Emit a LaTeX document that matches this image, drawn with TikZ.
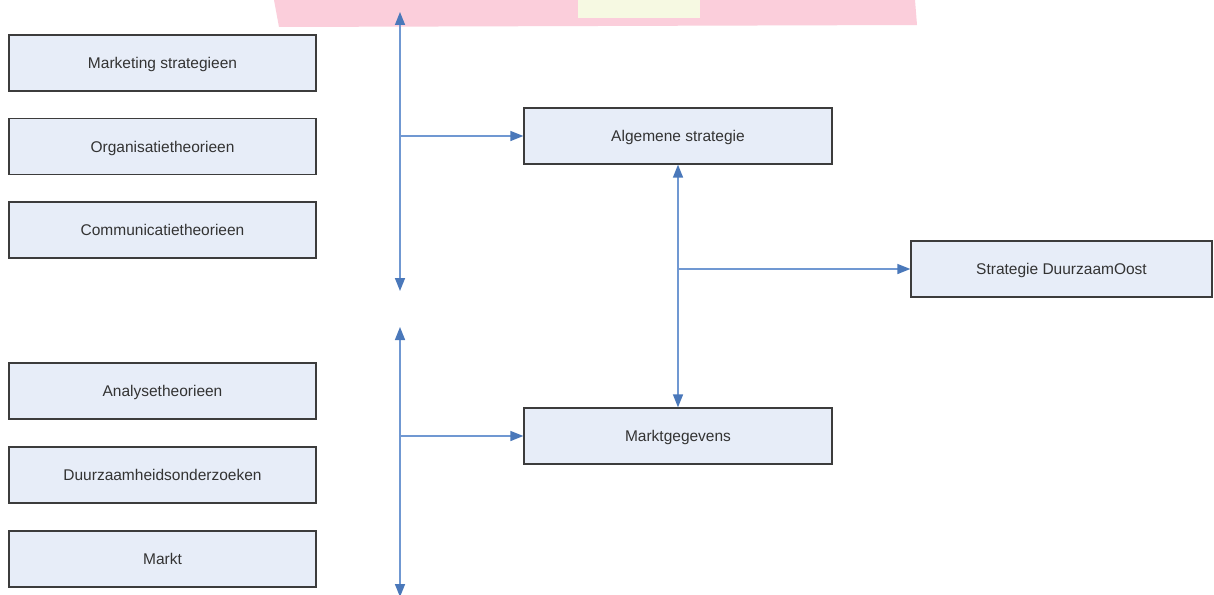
\documentclass[tikz,border=0pt]{standalone}
\usepackage{fontspec}
\setmainfont{Liberation Sans}
\usetikzlibrary{arrows.meta}
\definecolor{boxfill}{HTML}{E7EDF8}
\definecolor{boxline}{HTML}{3C3C3C}
\definecolor{flow}{HTML}{7098D2}
\definecolor{flowtip}{HTML}{4A78BA}
\definecolor{banner}{HTML}{FBCEDB}
\definecolor{bannerlight}{HTML}{F6F9E2}
\tikzset{
  stepbox/.style={draw=boxline, line width=1.3pt, fill=boxfill, minimum width=307pt,
    minimum height=56pt, inner sep=0pt, font=\fontsize{15.5}{17}\selectfont, text=black!80,
    text depth=0pt},
  flowline/.style={draw=flow, line width=1.5pt},
  tip/.style={-{Triangle[length=13pt,width=10pt,fill=flowtip,color=flowtip]}},
  bothtips/.style={{Triangle[length=13pt,width=10pt,fill=flowtip,color=flowtip]}-{Triangle[length=13pt,width=10pt,fill=flowtip,color=flowtip]}}
}
\begin{document}
\begin{tikzpicture}[x=1pt,y=-1pt]
\useasboundingbox[fill=white] (0,0) rectangle (1214,594);
\clip (0,0) rectangle (1214,594);

% header band
\fill[banner] (274,0) -- (915,0) -- (917,25) -- (279,27) -- cycle;
\fill[bannerlight] (578,0) rectangle (700,18);

% theory and data sources
\node[stepbox] (ms) at (162.5,63)  {Marketing strategieen};
\node[stepbox] (ot) at (162.5,146.5) {Organisatietheorieen};
\node[stepbox] (ct) at (162.5,230) {Communicatietheorieen};
\node[stepbox] (at) at (162.5,391) {Analysetheorieen};
\node[stepbox] (do) at (162.5,475) {Duurzaamheidsonderzoeken};
\node[stepbox] (mk) at (162.5,559) {Markt};

% results
\node[stepbox, minimum width=308pt] (alg) at (678,136) {Algemene strategie};
\node[stepbox, minimum width=308pt] (mg) at (678,436) {Marktgegevens};
\node[stepbox, minimum width=301pt] (sd) at (1061.5,269) {Strategie DuurzaamOost};

% collector lines
\coordinate (utop) at (400,12);
\coordinate (ubot) at (400,291);
\coordinate (umid) at (400,136);
\coordinate (ltop) at (400,327);
\coordinate (lbot) at (400,597);
\coordinate (lmid) at (400,436);
\coordinate (split) at (678,269);

\draw[flowline, bothtips] (utop) -- (ubot);
\draw[flowline, bothtips] (ltop) -- (lbot);
\draw[flowline, tip] (umid) -- (alg.west);
\draw[flowline, tip] (lmid) -- (mg.west);
\draw[flowline, bothtips] (alg.south) -- (mg.north);
\draw[flowline, tip] (split) -- (sd.west);
\end{tikzpicture}
\end{document}
